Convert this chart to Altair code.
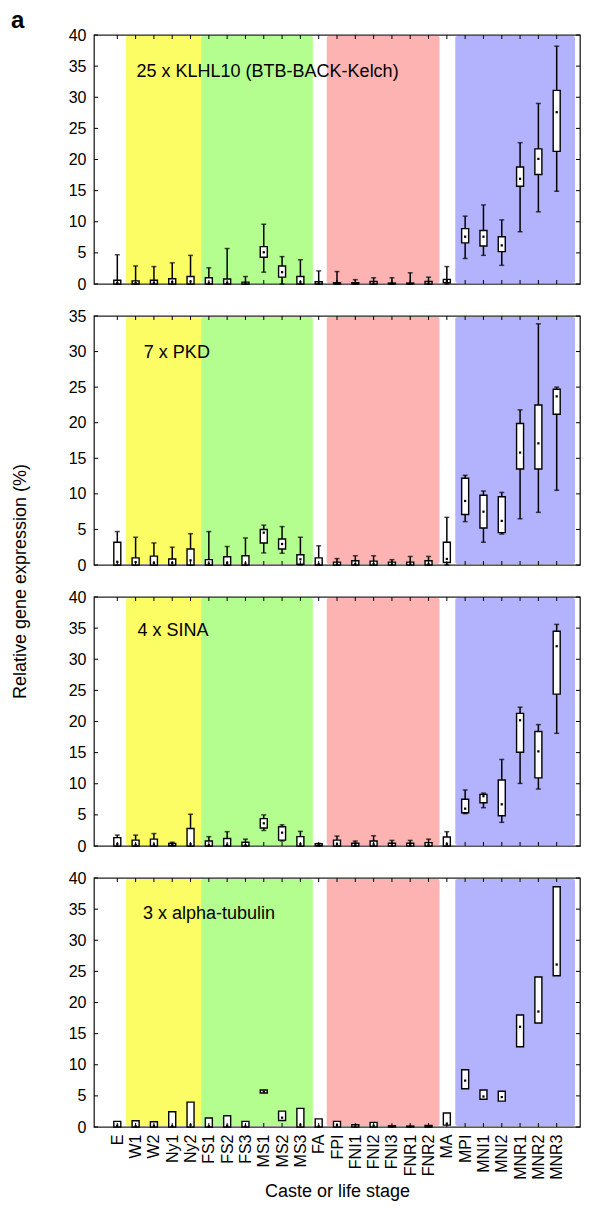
import altair as alt
import pandas as pd

FONT = "Liberation Sans, Arial, Helvetica, sans-serif"

categories = ["E", "W1", "W2", "Ny1", "Ny2", "FS1", "FS2", "FS3", "MS1", "MS2", "MS3",
              "FA", "FPI", "FNI1", "FNI2", "FNI3", "FNR1", "FNR2", "MA",
              "MPI", "MNI1", "MNI2", "MNR1", "MNR2", "MNR3"]

panel_titles = ["25 x KLHL10 (BTB-BACK-Kelch)", "7 x PKD", "4 x SINA", "3 x alpha-tubulin"]
panel_ymax = [40, 35, 40, 40]
title_pos_x = [1.05, 1.45, 1.1, 1.4]
title_pos_y = [34.0, 29.8, 34.5, 34.2]

p1_hi  = [4.7, 2.9, 2.8, 3.4, 4.6, 2.6, 5.7, 1.2, 9.6, 4.4, 3.9, 2.1, 2.0, 0.7, 1.0, 1.0, 1.8, 1.1, 2.8, 10.9, 12.7, 10.3, 22.7, 29.0, 38.2]
p1_q3  = [0.6, 0.5, 0.6, 0.85, 1.2, 1.0, 0.8, 0.3, 6.0, 2.9, 1.2, 0.35, 0.2, 0.2, 0.4, 0.15, 0.15, 0.4, 0.75, 8.9, 8.6, 7.6, 18.8, 21.7, 31.1]
p1_med = [0.2, 0.15, 0.2, 0.3, 0.4, 0.2, 0.2, 0.1, 5.1, 1.9, 0.3, 0.1, 0.05, 0.05, 0.1, 0.05, 0.05, 0.1, 0.5, 7.6, 7.6, 6.2, 16.9, 20.1, 27.6]
p1_q1  = [0, 0, 0, 0, 0, 0, 0, 0, 4.3, 1.1, 0, 0, 0, 0, 0, 0, 0, 0, 0.2, 6.6, 6.1, 5.2, 15.7, 17.6, 21.3]
p1_lo  = [0, 0, 0, 0, 0, 0, 0, 0, 1.9, 0, 0, 0, 0, 0, 0, 0, 0, 0, 0, 4.1, 4.6, 3.0, 8.4, 11.6, 14.9]

p2_hi  = [4.7, 3.9, 3.1, 2.5, 4.4, 4.7, 2.6, 3.8, 5.6, 5.4, 3.9, 2.7, 0.9, 1.3, 1.3, 0.75, 1.2, 1.2, 6.7, 12.6, 10.4, 10.2, 21.8, 33.9, 25.0]
p2_q3  = [3.2, 1.0, 1.25, 0.85, 2.25, 0.75, 1.15, 1.3, 5.0, 3.65, 1.45, 1.0, 0.4, 0.6, 0.55, 0.4, 0.4, 0.6, 3.2, 12.2, 9.8, 9.6, 19.9, 22.5, 24.7]
p2_med = [0.45, 0.4, 0.3, 0.3, 0.65, 0.2, 0.3, 0.2, 4.55, 2.95, 0.8, 0.1, 0.1, 0.15, 0.15, 0.1, 0.1, 0.15, 0.85, 9.0, 7.5, 6.2, 15.8, 17.1, 23.7]
p2_q1  = [0, 0, 0, 0, 0, 0, 0, 0, 3.1, 2.25, 0.1, 0, 0, 0, 0, 0, 0, 0, 0.35, 7.1, 5.2, 4.55, 13.5, 13.5, 21.2]
p2_lo  = [0, 0, 0, 0, 0, 0, 0, 0, 1.7, 1.65, 0, 0, 0, 0, 0, 0, 0, 0, 0, 6.1, 3.2, 4.35, 6.5, 7.4, 10.5]

p3_hi  = [1.75, 1.75, 2.0, 0.6, 5.1, 1.5, 2.3, 1.1, 5.0, 3.4, 2.35, 0.4, 1.6, 0.8, 1.65, 0.9, 0.9, 1.1, 2.3, 9.0, 8.5, 13.9, 22.3, 19.5, 35.6]
p3_q3  = [1.35, 0.95, 1.1, 0.4, 2.8, 0.8, 1.2, 0.6, 4.4, 3.1, 1.5, 0.35, 0.95, 0.45, 0.8, 0.45, 0.45, 0.55, 1.45, 7.5, 8.3, 10.6, 21.3, 18.4, 34.5]
p3_med = [0.3, 0.2, 0.25, 0.2, 0.3, 0.15, 0.2, 0.15, 3.65, 2.15, 0.3, 0.15, 0.3, 0.15, 0.25, 0.1, 0.15, 0.2, 0.3, 6.0, 8.0, 6.7, 20.2, 15.2, 32.1]
p3_q1  = [0, 0, 0, 0.05, 0, 0, 0, 0, 2.9, 0.95, 0, 0.05, 0, 0, 0, 0, 0, 0, 0, 5.35, 6.95, 4.85, 15.05, 10.95, 24.4]
p3_lo  = [0, 0, 0, 0, 0, 0, 0, 0, 2.5, 0.8, 0, 0, 0, 0, 0, 0, 0, 0, 0, 5.2, 6.15, 3.8, 10.05, 9.15, 18.1]

p4_q3  = [0.9, 1.0, 0.85, 2.45, 4.0, 1.45, 1.8, 0.9, 5.95, 2.55, 3.0, 1.3, 0.9, 0.35, 0.75, 0.2, 0.15, 0.25, 2.25, 9.2, 5.95, 5.75, 18.0, 24.1, 38.6]
p4_med = [0.2, 0.1, 0.2, 0.15, 0.35, 0.1, 0.2, 0.1, 5.7, 1.5, 0.35, 0.1, 0.3, 0.1, 0.2, 0.05, 0.05, 0.1, 0.55, 7.45, 4.9, 4.8, 16.1, 18.55, 26.1]
p4_q1  = [0, 0, 0, 0, 0, 0, 0, 0, 5.45, 1.05, 0, 0, 0, 0, 0, 0, 0, 0, 0.3, 6.15, 4.45, 4.15, 12.9, 16.7, 24.3]

band_start = [0.47, 4.58, 11.44, 18.46]
band_end = [4.58, 10.68, 17.6, 25.0]
band_color = ["#FCFC64", "#B4FD8F", "#FEB3B3", "#B3B3FD"]

W = 486
H = 249
N = len(categories)
label_expr = "[" + ",".join("'%s'" % c for c in categories) + "][datum.value]"


def make_panel(k, q1, med, q3, lo=None, hi=None, bottom=False):
    ymax = panel_ymax[k]
    df = pd.DataFrame({"idx": list(range(N)), "cat": categories, "q1": q1, "med": med, "q3": q3})
    if lo is not None:
        df["lo"] = lo
        df["hi"] = hi
    xs = alt.Scale(domain=[-1, N], nice=False, zero=False)
    ys = alt.Scale(domain=[0, ymax], nice=False, zero=False)
    yaxis_kw = dict(values=list(range(0, ymax + 1, 5)), grid=False, ticks=False, domain=False,
                    labelFontSize=16, labelPadding=8, labelColor="black", labelFont=FONT,
                    labelFlush=False)
    if k == 1:
        yaxis = alt.Axis(title="Relative gene expression (%)", titleX=-69, titleY=H + 16,
                         titleAngle=270, titleBaseline="alphabetic", titleFontSize=18,
                         titleFontWeight="normal", titleFont=FONT, titleColor="black", **yaxis_kw)
    else:
        yaxis = alt.Axis(title=None, **yaxis_kw)
    if bottom:
        xaxis = alt.Axis(values=list(range(N)), labelExpr=label_expr, labelAngle=270, labelPadding=7,
                         ticks=False, domain=False, grid=False, labelFontSize=16, labelColor="black",
                         labelFont=FONT, labelOverlap=False, labelFlush=False,
                         title="Caste or life stage", titleFontSize=18, titleFontWeight="normal",
                         titleFont=FONT, titleColor="black", titlePadding=3)
    else:
        xaxis = None

    bands = pd.DataFrame({"start": band_start, "end": band_end, "color": band_color})
    band_layer = alt.Chart(bands).mark_rect(cornerRadius=2).encode(
        x=alt.X("start:Q", scale=xs, axis=xaxis),
        x2="end:Q",
        y=alt.value(1), y2=alt.value(H - 1),
        color=alt.Color("color:N", scale=None),
    )
    base = alt.Chart(df)
    layers = [band_layer]
    if lo is not None:
        whisk = base.mark_rule(color="black", strokeWidth=1.5).encode(
            x=alt.X("idx:Q", scale=xs, axis=xaxis),
            y=alt.Y("lo:Q", scale=ys, axis=yaxis), y2="hi:Q")
        cap_hi = base.mark_tick(orient="horizontal", size=5, thickness=1.5, color="black").encode(
            x=alt.X("idx:Q", scale=xs, axis=xaxis), y=alt.Y("hi:Q", scale=ys, axis=yaxis))
        cap_lo = base.mark_tick(orient="horizontal", size=5, thickness=1.5, color="black").encode(
            x=alt.X("idx:Q", scale=xs, axis=xaxis), y=alt.Y("lo:Q", scale=ys, axis=yaxis))
        layers += [whisk, cap_hi, cap_lo]
    box = base.mark_bar(size=7, fill="white", stroke="black", strokeWidth=1.4).encode(
        x=alt.X("idx:Q", scale=xs, axis=xaxis),
        y=alt.Y("q1:Q", scale=ys, axis=yaxis), y2="q3:Q")
    dot = base.mark_square(size=5, color="black", opacity=1).encode(
        x=alt.X("idx:Q", scale=xs, axis=xaxis), y=alt.Y("med:Q", scale=ys, axis=yaxis))
    layers += [box, dot]

    yt = pd.DataFrame({"v": list(range(0, ymax + 1, 5))})
    lt = alt.Chart(yt).mark_rule(color="black", strokeWidth=1).encode(
        y=alt.Y("v:Q", scale=ys, axis=yaxis), x=alt.value(0), x2=alt.value(4))
    rt = alt.Chart(yt).mark_rule(color="black", strokeWidth=1).encode(
        y=alt.Y("v:Q", scale=ys, axis=yaxis), x=alt.value(W - 4), x2=alt.value(W))
    xt = pd.DataFrame({"i": list(range(N))})
    bt = alt.Chart(xt).mark_rule(color="black", strokeWidth=1).encode(
        x=alt.X("i:Q", scale=xs, axis=xaxis), y=alt.value(H - 4), y2=alt.value(H))
    tt = alt.Chart(xt).mark_rule(color="black", strokeWidth=1).encode(
        x=alt.X("i:Q", scale=xs, axis=xaxis), y=alt.value(0), y2=alt.value(4))
    layers += [lt, rt, bt, tt]

    lab = pd.DataFrame({"x": [title_pos_x[k]], "y": [title_pos_y[k]], "t": [panel_titles[k]]})
    txt = alt.Chart(lab).mark_text(align="left", baseline="middle", fontSize=18, font=FONT,
                                   color="black").encode(
        x=alt.X("x:Q", scale=xs, axis=xaxis), y=alt.Y("y:Q", scale=ys, axis=yaxis), text="t:N")
    layers.append(txt)
    if k == 0:
        tag = alt.Chart(lab).mark_text(align="left", baseline="alphabetic", fontSize=24,
                                       fontWeight="bold", font=FONT, color="black").encode(
            x=alt.value(-83), y=alt.value(-7), text=alt.value("a"))
        layers.append(tag)
    return alt.layer(*layers).properties(width=W, height=H)


p1 = make_panel(0, p1_q1, p1_med, p1_q3, p1_lo, p1_hi)
p2 = make_panel(1, p2_q1, p2_med, p2_q3, p2_lo, p2_hi)
p3 = make_panel(2, p3_q1, p3_med, p3_q3, p3_lo, p3_hi)
p4 = make_panel(3, p4_q1, p4_med, p4_q3, bottom=True)

chart = alt.vconcat(p1, p2, p3, p4, spacing=32, bounds="flush").properties(
    padding={"left": 2, "top": 0, "right": 0, "bottom": 0},
).configure_view(stroke="#222", strokeWidth=1.3)

chart.save("out.html", embed_options={"renderer": "svg", "actions": False})
